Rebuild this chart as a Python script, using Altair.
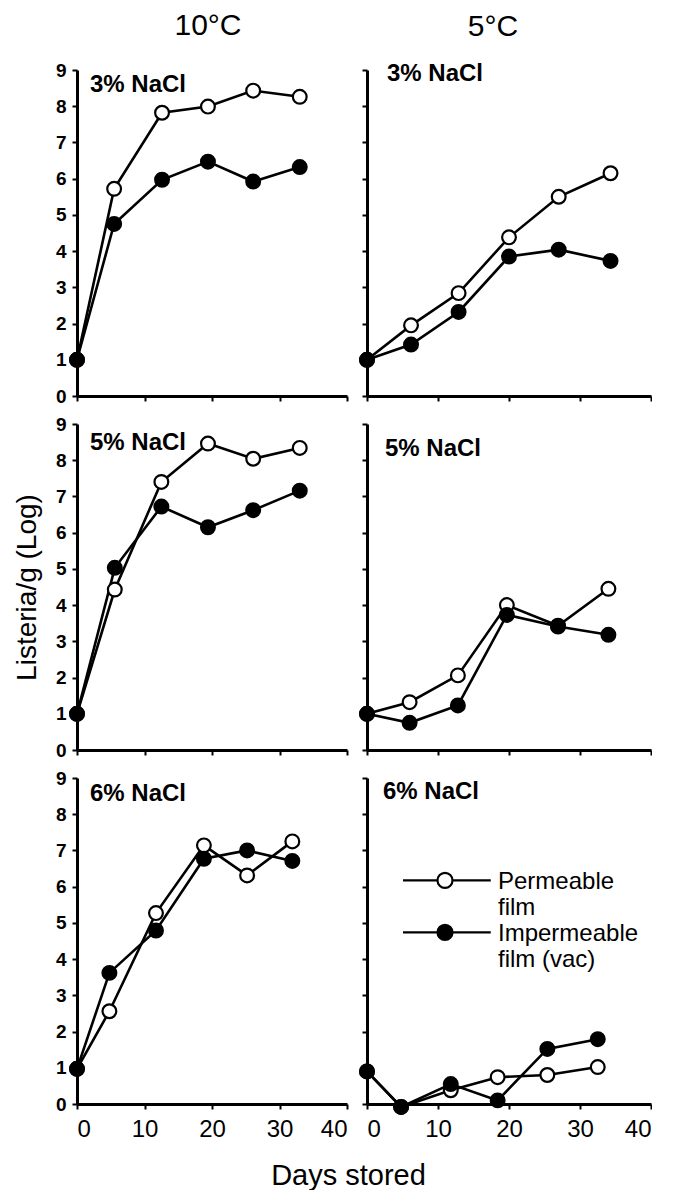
import altair as alt
import pandas as pd

FONT = "Liberation Sans"

temps = ["10°C", "5°C"]
salts = ["3% NaCl", "5% NaCl", "6% NaCl"]
films = ["Permeable film", "Impermeable film (vac)"]

# 10 °C
days_10_3 = [0, 5.5, 12.6, 19.4, 26.1, 33.0]
perm_10_3 = [1.0, 5.72, 7.82, 7.99, 8.43, 8.26]
imp_10_3 = [1.0, 4.75, 5.97, 6.47, 5.92, 6.32]

days_10_5 = [0, 5.6, 12.5, 19.4, 26.1, 33.0]
perm_10_5 = [1.0, 4.43, 7.4, 8.46, 8.04, 8.34]
imp_10_5 = [1.0, 5.03, 6.72, 6.15, 6.62, 7.16]

days_10_6 = [0, 4.8, 11.7, 18.8, 25.2, 31.9]
perm_10_6 = [0.97, 2.56, 5.27, 7.14, 6.31, 7.25]
imp_10_6 = [0.97, 3.62, 4.79, 6.77, 7.0, 6.71]

# 5 °C
days_5_3 = [0, 6.2, 12.9, 20.0, 27.0, 34.3]
perm_5_3 = [1.0, 1.95, 2.84, 4.38, 5.5, 6.15]
imp_5_3 = [1.0, 1.42, 2.32, 3.85, 4.04, 3.73]

days_5_5 = [0, 6.0, 12.8, 19.7, 26.9, 34.0]
perm_5_5 = [1.0, 1.32, 2.06, 4.0, 3.43, 4.45]
imp_5_5 = [1.0, 0.75, 1.23, 3.73, 3.41, 3.18]

days_5_6 = [0, 4.8, 11.8, 18.4, 25.4, 32.5]
perm_5_6 = [0.9, -0.08, 0.38, 0.74, 0.8, 1.02]
imp_5_6 = [0.9, -0.08, 0.55, 0.1, 1.52, 1.79]

x_ticks = [0, 10, 20, 30, 40]
y_ticks = [0, 1, 2, 3, 4, 5, 6, 7, 8, 9]

SYMBOL = ("M-5.6,-1.15H-1M1,-1.15H6.1"
          "M-1,-1.15A1,1,0,1,0,1,-1.15A1,1,0,1,0,-1,-1.15Z")

legend = alt.Legend(
    title=None, orient="none", legendX=356, legendY=807, padding=0,
    symbolType=SYMBOL, symbolSize=225, symbolStrokeColor="black",
    symbolStrokeWidth=2.2, labelFont=FONT, labelFontSize=24, labelLimit=0,
    labelColor="black", labelBaseline="alphabetic", labelOffset=41,
    rowPadding=0,
    labelExpr="[substring(datum.label, 0, indexof(datum.label, ' ')), "
              "substring(datum.label, indexof(datum.label, ' ') + 1)]",
)


def panel(days, perm, imp, label, lx, ly, width, xlabels, ylabels,
          title=None, title_dx=0, ytitle=None, xtitle=None):
    df = pd.DataFrame({
        "day": list(days) * 2,
        "log": list(perm) + list(imp),
        "film": [films[0]] * len(days) + [films[1]] * len(days),
    })
    xaxis = alt.Axis(values=x_ticks, labels=xlabels, title=xtitle,
                     labelFontSize=24, labelFontWeight="normal",
                     labelPadding=8, titleFontSize=29, titleFontWeight="normal",
                     titleX=271, titlePadding=20)
    yaxis = alt.Axis(values=y_ticks, labels=ylabels, title=ytitle,
                     labelFontSize=19, labelFontWeight="bold", labelPadding=6,
                     titleFontSize=28, titleFontWeight="normal", titlePadding=14)
    x = alt.X("day:Q", scale=alt.Scale(domain=[0, 40], nice=False), axis=xaxis)
    y = alt.Y("log:Q", scale=alt.Scale(domain=[0, 9], nice=False), axis=yaxis)
    base = alt.Chart(df)
    lines = base.mark_line(color="black", strokeWidth=2.6).encode(
        x=x, y=y, detail="film:N")
    pts = base.mark_circle(size=190, stroke="black", strokeWidth=2.2,
                           opacity=1).encode(
        x=x, y=y,
        fill=alt.Fill("film:N", scale=alt.Scale(domain=films,
                                                range=["white", "black"]),
                      legend=legend))
    txt = alt.Chart(pd.DataFrame({"t": [label]})).mark_text(
        font=FONT, fontSize=24, fontWeight="bold", align="left",
        baseline="middle", color="black").encode(
        text="t:N", x=alt.value(lx), y=alt.value(ly))
    ch = alt.layer(lines, pts, txt).properties(width=width, height=326)
    if title is not None:
        ch = ch.properties(title=alt.TitleParams(
            title, fontSize=30, fontWeight="normal", font=FONT, dx=title_dx,
            frame="group", offset=20, color="black"))
    return ch


LW, RW = 270, 284
tl = panel(days_10_3, perm_10_3, imp_10_3, salts[0], 13, 15, LW, False, True,
           title=temps[0], title_dx=-4)
tr = panel(days_5_3, perm_5_3, imp_5_3, salts[0], 20, 4, RW, False, False,
           title=temps[1], title_dx=-16)
ml = panel(days_10_5, perm_10_5, imp_10_5, salts[1], 13, 19, LW, False, True,
           ytitle="Listeria/g (Log)")
mr = panel(days_5_5, perm_5_5, imp_5_5, salts[1], 18, 25, RW, False, False)
bl = panel(days_10_6, perm_10_6, imp_10_6, salts[2], 13, 16, LW, True, True,
           xtitle="Days stored")
br = panel(days_5_6, perm_5_6, imp_5_6, salts[2], 16, 14, RW, True, False)

chart = alt.concat(tl, tr, ml, mr, bl, br, columns=2,
                   spacing={"row": 28, "column": 20}, bounds="flush").resolve_scale(
    fill="shared").resolve_legend(fill="shared").configure_view(
    stroke=None).configure_axis(
    domainColor="black", domainWidth=3, tickColor="black", tickWidth=2,
    tickSize=5, grid=False, labelFont=FONT, titleFont=FONT,
    labelColor="black", titleColor="black").properties(
    padding={"left": 5, "top": 3, "right": 0, "bottom": 0})

chart.save("out.html", embed_options={"renderer": "svg", "actions": False})
